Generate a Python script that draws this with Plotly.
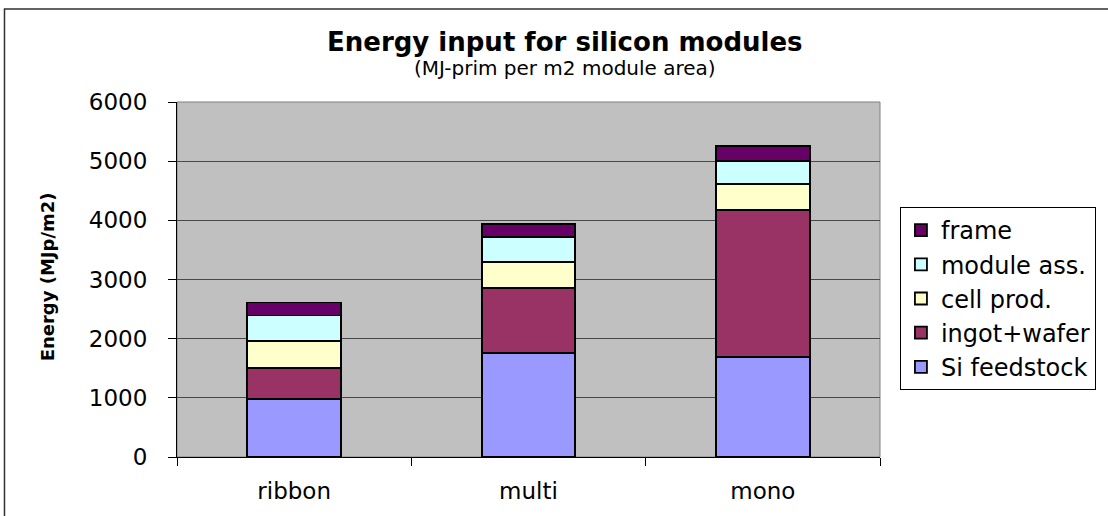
import plotly.graph_objects as go

categories = ["ribbon", "multi", "mono"]
si_feedstock = [975, 1760, 1690]
ingot_wafer = [525, 1100, 2480]
cell_prod = [460, 435, 445]
module_ass = [430, 420, 390]
frame = [220, 220, 250]

series = [
    ("Si feedstock", si_feedstock, "#9999FF"),
    ("ingot+wafer", ingot_wafer, "#993366"),
    ("cell prod.", cell_prod, "#FFFFCC"),
    ("module ass.", module_ass, "#CCFFFF"),
    ("frame", frame, "#660066"),
]

FONT = "DejaVu Sans"
W, H = 1108, 516
L, R, T, B = 177, 226, 102, 59
PW, PH = W - L - R, H - T - B

def px(x):
    return (x - L) / PW

def py(y):
    return (H - B - y) / PH

fig = go.Figure()
for name, vals, color in series:
    fig.add_trace(go.Bar(
        x=categories, y=vals, name=name,
        marker=dict(color=color, line=dict(color="black", width=1.8)),
        width=0.40,
    ))

fig.update_layout(
    width=W, height=H,
    margin=dict(l=L, r=R, t=T, b=B, pad=0),
    barmode="stack",
    paper_bgcolor="white",
    plot_bgcolor="#C0C0C0",
    font=dict(family=FONT, color="black", size=23),
    showlegend=True,
    legend=dict(
        x=px(902), y=py(207), xanchor="left", yanchor="top",
        traceorder="reversed",
        bgcolor="white", bordercolor="black", borderwidth=1,
        font=dict(family=FONT, size=24, color="black"),
        itemclick=False,
    ),
    xaxis=dict(
        type="category",
        showline=True, linecolor="black", linewidth=1,
        ticks="outside", ticklen=8, tickcolor="black",
        tickson="boundaries",
        showgrid=False,
        tickfont=dict(family=FONT, size=23),
        ticklabelstandoff=13,
    ),
    yaxis=dict(
        range=[0, 6000], dtick=1000, tick0=0,
        showline=True, linecolor="black", linewidth=1,
        ticks="outside", ticklen=8, tickcolor="black",
        showgrid=True, gridcolor="#484848", gridwidth=1,
        zeroline=False,
        tickfont=dict(family=FONT, size=23),
        ticklabelstandoff=16,
    ),
    shapes=[
        dict(type="rect", xref="paper", yref="paper", x0=0, x1=1, y0=0, y1=1,
             line=dict(color="#808080", width=1), layer="below"),
        dict(type="rect", xref="paper", yref="paper",
             x0=px(4), x1=px(1114), y0=py(9), y1=py(522),
             line=dict(color="#303030", width=1.5)),
    ],
    annotations=[
        dict(text="<b>Energy input for silicon modules</b>", xref="paper", yref="paper",
             x=px(566), y=py(42), xanchor="center", yanchor="middle", showarrow=False,
             font=dict(family=FONT, size=26, color="black")),
        dict(text="(MJ-prim per m2 module area)", xref="paper", yref="paper",
             x=px(566), y=py(68), xanchor="center", yanchor="middle", showarrow=False,
             font=dict(family=FONT, size=20, color="black")),
        dict(text="<b>Energy (MJp/m2)</b>", xref="paper", yref="paper",
             x=px(47), y=py(277), xanchor="center", yanchor="middle", showarrow=False,
             textangle=-90,
             font=dict(family=FONT, size=18, color="black")),
    ],
)

fig.write_html("out.html", config={"displayModeBar": False},
               post_script="document.body.style.margin='0';")
